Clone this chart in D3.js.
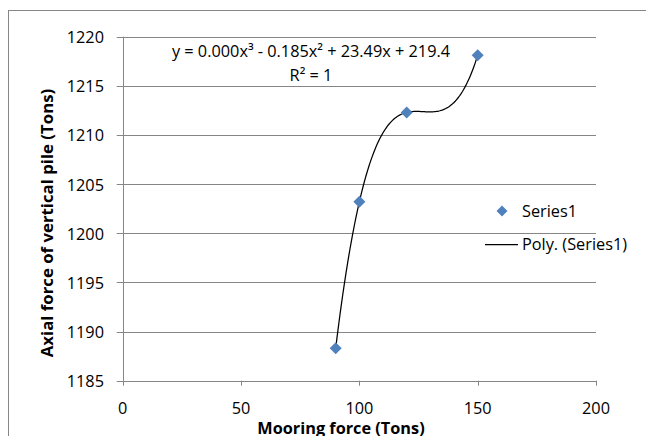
<!DOCTYPE html>
<html>
<head>
<meta charset="utf-8">
<script src="https://cdn.jsdelivr.net/npm/d3@7"></script>
<style>
  body { margin: 0; background: #fff; }
  text { font-family: 'Open Sans', sans-serif; fill: #000; }
</style>
</head>
<body>
<div id="chart"></div>
<script>
let mooring = [90, 100, 120, 150] // x values (Tons)
let axialForce = [1188.3, 1203.2, 1212.3, 1218.1] // y values (Tons)
let xTicks = [0, 50, 100, 150, 200]
let yTicks = [1185, 1190, 1195, 1200, 1205, 1210, 1215, 1220]
let equationText = 'y = 0.000x³ - 0.185x² + 23.49x + 219.4'
let r2Text = 'R² = 1'
let legendLabels = ['Series1', 'Poly. (Series1)']

let width = 646,
  height = 436,
  plot = { left: 122.7, right: 596, top: 36.7, bottom: 380.7 },
  gridColor = '#868686',
  pointColor = '#4F81BD',
  fontSize = '16.3px'

let x = d3.scaleLinear().domain([0, 200]).range([plot.left, plot.right])
let y = d3.scaleLinear().domain([1185, 1220]).range([plot.bottom, plot.top])

let svg = d3.select('#chart').append('svg')
  .attr('width', width)
  .attr('height', height)

// outer chart border (cut off by the picture at right and bottom)
svg.append('rect')
  .attr('x', 8.5).attr('y', 10.5)
  .attr('width', 700).attr('height', 500)
  .attr('fill', 'none')
  .attr('stroke', gridColor)

// gridlines
svg.append('g').selectAll('line')
  .data(yTicks)
  .enter().append('line')
  .attr('x1', plot.left - 6)
  .attr('x2', plot.right)
  .attr('y1', d => Math.round(y(d)) + 0.5)
  .attr('y2', d => Math.round(y(d)) + 0.5)
  .attr('stroke', gridColor)

// y axis line
svg.append('line')
  .attr('x1', Math.round(plot.left) + 0.5).attr('x2', Math.round(plot.left) + 0.5)
  .attr('y1', plot.top).attr('y2', plot.bottom)
  .attr('stroke', gridColor)

// x ticks
svg.append('g').selectAll('line')
  .data(xTicks)
  .enter().append('line')
  .attr('x1', d => Math.round(x(d)) + 0.5)
  .attr('x2', d => Math.round(x(d)) + 0.5)
  .attr('y1', plot.bottom)
  .attr('y2', plot.bottom + 5)
  .attr('stroke', gridColor)

// tick labels
svg.append('g').selectAll('text')
  .data(yTicks)
  .enter().append('text')
  .text(d => d)
  .attr('x', 104)
  .attr('y', d => y(d) + 6.5)
  .attr('text-anchor', 'end')
  .attr('font-size', fontSize)

svg.append('g').selectAll('text')
  .data(xTicks)
  .enter().append('text')
  .text(d => d)
  .attr('x', d => x(d))
  .attr('y', 414)
  .attr('text-anchor', 'middle')
  .attr('font-size', fontSize)

// axis titles
svg.append('text')
  .text('Mooring force (Tons)')
  .attr('x', 341)
  .attr('y', 433.5)
  .attr('text-anchor', 'middle')
  .attr('font-size', fontSize)
  .attr('font-weight', 'bold')

svg.append('text')
  .text('Axial force of vertical pile (Tons)')
  .attr('transform', 'translate(53,223) rotate(-90)')
  .attr('text-anchor', 'middle')
  .attr('font-size', '16.8px')
  .attr('font-weight', 'bold')

// cubic trendline through the points (R² = 1)
function cubic(t) {
  let s = 0
  for (let i = 0; i < mooring.length; i++) {
    let term = axialForce[i]
    for (let j = 0; j < mooring.length; j++) {
      if (j !== i) term *= (t - mooring[j]) / (mooring[i] - mooring[j])
    }
    s += term
  }
  return s
}
let trendX = d3.range(mooring[0], mooring[mooring.length - 1] + 0.25, 0.5)

svg.append('path')
  .datum(trendX)
  .attr('d', d3.line().x(d => x(d)).y(d => y(cubic(d))))
  .attr('fill', 'none')
  .attr('stroke', '#000')
  .attr('stroke-width', 1.25)

// points
let diamond = r => `M0,${-r}L${r},0L0,${r}L${-r},0Z`
svg.append('g').selectAll('path')
  .data(mooring)
  .enter().append('path')
  .attr('d', diamond(6))
  .attr('transform', (d, i) => 'translate(' + x(d) + ',' + y(axialForce[i]) + ')')
  .attr('fill', pointColor)

// equation label
svg.append('text')
  .text(equationText)
  .attr('x', 311)
  .attr('y', 56.5)
  .attr('text-anchor', 'middle')
  .attr('font-size', fontSize)

svg.append('text')
  .text(r2Text)
  .attr('x', 311)
  .attr('y', 80.5)
  .attr('text-anchor', 'middle')
  .attr('font-size', fontSize)

// legend
let legend = svg.append('g')
legend.append('path')
  .attr('d', diamond(5.5))
  .attr('transform', 'translate(502,211)')
  .attr('fill', pointColor)
legend.append('line')
  .attr('x1', 485).attr('x2', 518)
  .attr('y1', 244.5).attr('y2', 244.5)
  .attr('stroke', '#000')
  .attr('stroke-width', 1.25)
legend.selectAll('.legend-text')
  .data(legendLabels)
  .enter().append('text')
  .text(d => d)
  .attr('x', 522)
  .attr('y', (d, i) => i === 0 ? 216.5 : 250)
  .attr('font-size', fontSize)
</script>
</body>
</html>
